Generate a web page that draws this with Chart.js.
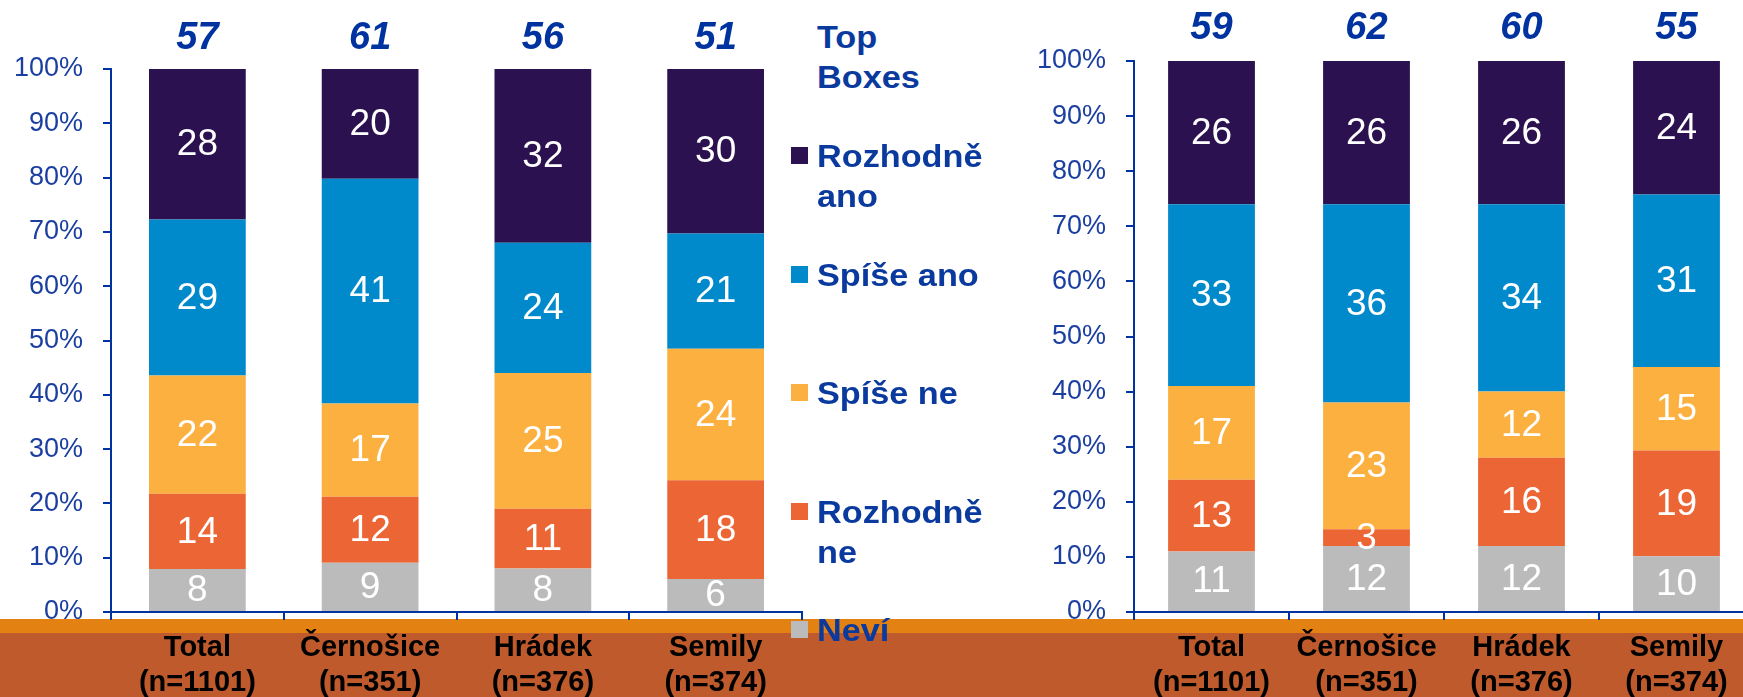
<!DOCTYPE html>
<html>
<head>
<meta charset="utf-8">
<script src="https://cdn.jsdelivr.net/npm/chart.js@4.4.0/dist/chart.umd.min.js"></script>
<style>
	html, body {
		margin: 0;
		padding: 0;
		width: 1743px;
		height: 697px;
		overflow: hidden;
		background: #fff;
		font-family: Arial, "Liberation Sans", sans-serif;
	}
	#band {
		position: absolute;
		left: 0;
		top: 619px;
		width: 1743px;
		height: 78px;
		box-sizing: border-box;
		background: #BE5A2C;
		border-top: 14px solid #E38213;
	}
	.wrap { position: absolute; top: 0; height: 697px; }
	#leftWrap { left: 0; width: 810px; }
	#rightWrap { left: 1000px; width: 760px; }
	#legend { position: absolute; left: 0; top: 0; color: #0B3A9E; font-weight: bold; font-size: 32px; line-height: 40px; }
	#legend .head, #legend .item { position: absolute; left: 817px; transform: scaleX(1.07); transform-origin: left top; }
	#legend .head { width: 110px; }
	#legend .item { width: 170px; }
	#legend .sw { position: absolute; left: 791px; width: 17px; height: 17px; }
</style>
</head>
<body>
<div id="band"></div>
<div class="wrap" id="leftWrap"><canvas id="leftChart"></canvas></div>
<div class="wrap" id="rightWrap"><canvas id="rightChart"></canvas></div>
<div id="legend"></div>
<script>
	const categories = [['Total', '(n=1101)'], ['Černošice', '(n=351)'], ['Hrádek', '(n=376)'], ['Semily', '(n=374)']];
	const seriesNames = ['Rozhodně ano', 'Spíše ano', 'Spíše ne', 'Rozhodně ne', 'Neví'];
	const seriesColors = ['#2B1150', '#0089CB', '#FBB040', '#EC6535', '#BBBBBB'];
	const legendTitle = 'Top Boxes';

	// left chart
	const leftTopBoxes = [57, 61, 56, 51];
	const leftRozhodneAno = [28, 20, 32, 30];
	const leftSpiseAno = [29, 41, 24, 21];
	const leftSpiseNe = [22, 17, 25, 24];
	const leftRozhodneNe = [14, 12, 11, 18];
	const leftNevi = [8, 9, 8, 6];

	// right chart
	const rightTopBoxes = [59, 62, 60, 55];
	const rightRozhodneAno = [26, 26, 26, 24];
	const rightSpiseAno = [33, 36, 34, 31];
	const rightSpiseNe = [17, 23, 12, 15];
	const rightRozhodneNe = [13, 3, 16, 19];
	const rightNevi = [11, 12, 12, 10];

	const blue = '#0033A0';
	const fontFamily = 'Arial, "Liberation Sans", sans-serif';

	const labelPlugin = {
		id: 'segLabels',
		afterDatasetsDraw(chart) {
			let ctx = chart.ctx;
			ctx.save();
			ctx.textAlign = 'center';
			ctx.textBaseline = 'middle';
			ctx.font = '37px ' + fontFamily;
			ctx.fillStyle = '#fff';
			chart.data.datasets.forEach((ds, di) => {
				chart.getDatasetMeta(di).data.forEach((bar, i) => {
					ctx.fillText(String(ds.counts[i]), bar.x, (bar.y + bar.base) / 2 + 1);
				});
			});
			// top boxes above the bars
			ctx.font = 'italic bold 38px ' + fontFamily;
			ctx.fillStyle = blue;
			let top = chart.options.topBoxes;
			let xs = chart.scales.x;
			top.forEach((v, i) => {
				ctx.fillText(String(v), xs.getPixelForValue(i), chart.chartArea.top - chart.options.topGap);
			});
			ctx.restore();
		}
	};

	function makeChart(id, series, topBoxes, axisWidth, padTop, padRight, topGap) {
		// series ordered top -> bottom, stack bottom -> top
		let totals = categories.map((c, i) => series.reduce((s, arr) => s + arr[i], 0));
		let datasets = series.map((arr, k) => ({
			label: seriesNames[k],
			counts: arr,
			data: arr.map((v, i) => v / totals[i] * 100),
			backgroundColor: seriesColors[k],
			borderWidth: 0,
			barPercentage: 0.56,
			categoryPercentage: 1
		})).reverse();

		return new Chart(document.getElementById(id), {
			type: 'bar',
			data: { labels: categories, datasets: datasets },
			options: {
				topBoxes: topBoxes,
				topGap: topGap,
				responsive: true,
				maintainAspectRatio: false,
				animation: false,
				layout: { padding: { top: padTop, right: padRight, left: 0, bottom: 0 } },
				plugins: { legend: { display: false }, tooltip: { enabled: false } },
				scales: {
					x: {
						stacked: true,
						grid: { drawOnChartArea: false, drawTicks: true, tickLength: 8, color: blue, lineWidth: 2 },
						border: { display: true, color: blue, width: 2 },
						ticks: { color: '#000', padding: 11, font: { family: fontFamily, size: 29, weight: 'bold', lineHeight: 1.2 }, maxRotation: 0 },
						afterFit(scale) { scale.height = 85; }
					},
					y: {
						stacked: true,
						min: 0,
						max: 100,
						grid: { drawOnChartArea: false, drawTicks: true, tickLength: 8, color: blue, lineWidth: 2 },
						border: { display: true, color: blue, width: 2 },
						ticks: {
							stepSize: 10,
							color: '#1B3FA0',
							padding: 20,
							font: { family: fontFamily, size: 27 },
							callback: v => v + '%'
						},
						afterFit(scale) { scale.width = axisWidth; }
					}
				}
			},
			plugins: [labelPlugin]
		});
	}

	makeChart('leftChart', [leftRozhodneAno, leftSpiseAno, leftSpiseNe, leftRozhodneNe, leftNevi], leftTopBoxes, 111, 69, 8, 30);
	makeChart('rightChart', [rightRozhodneAno, rightSpiseAno, rightSpiseNe, rightRozhodneNe, rightNevi], rightTopBoxes, 134, 61, 6, 32);

	// legend
	let legend = document.getElementById('legend');
	let head = document.createElement('div');
	head.className = 'head';
	head.style.top = '17px';
	head.textContent = legendTitle;
	legend.appendChild(head);
	seriesNames.forEach((name, k) => {
		let top = 136 + k * 118.5;
		let sw = document.createElement('div');
		sw.className = 'sw';
		sw.style.top = (top + 11) + 'px';
		sw.style.background = seriesColors[k];
		legend.appendChild(sw);
		let item = document.createElement('div');
		item.className = 'item';
		item.style.top = top + 'px';
		item.textContent = name;
		legend.appendChild(item);
	});
</script>
</body>
</html>
